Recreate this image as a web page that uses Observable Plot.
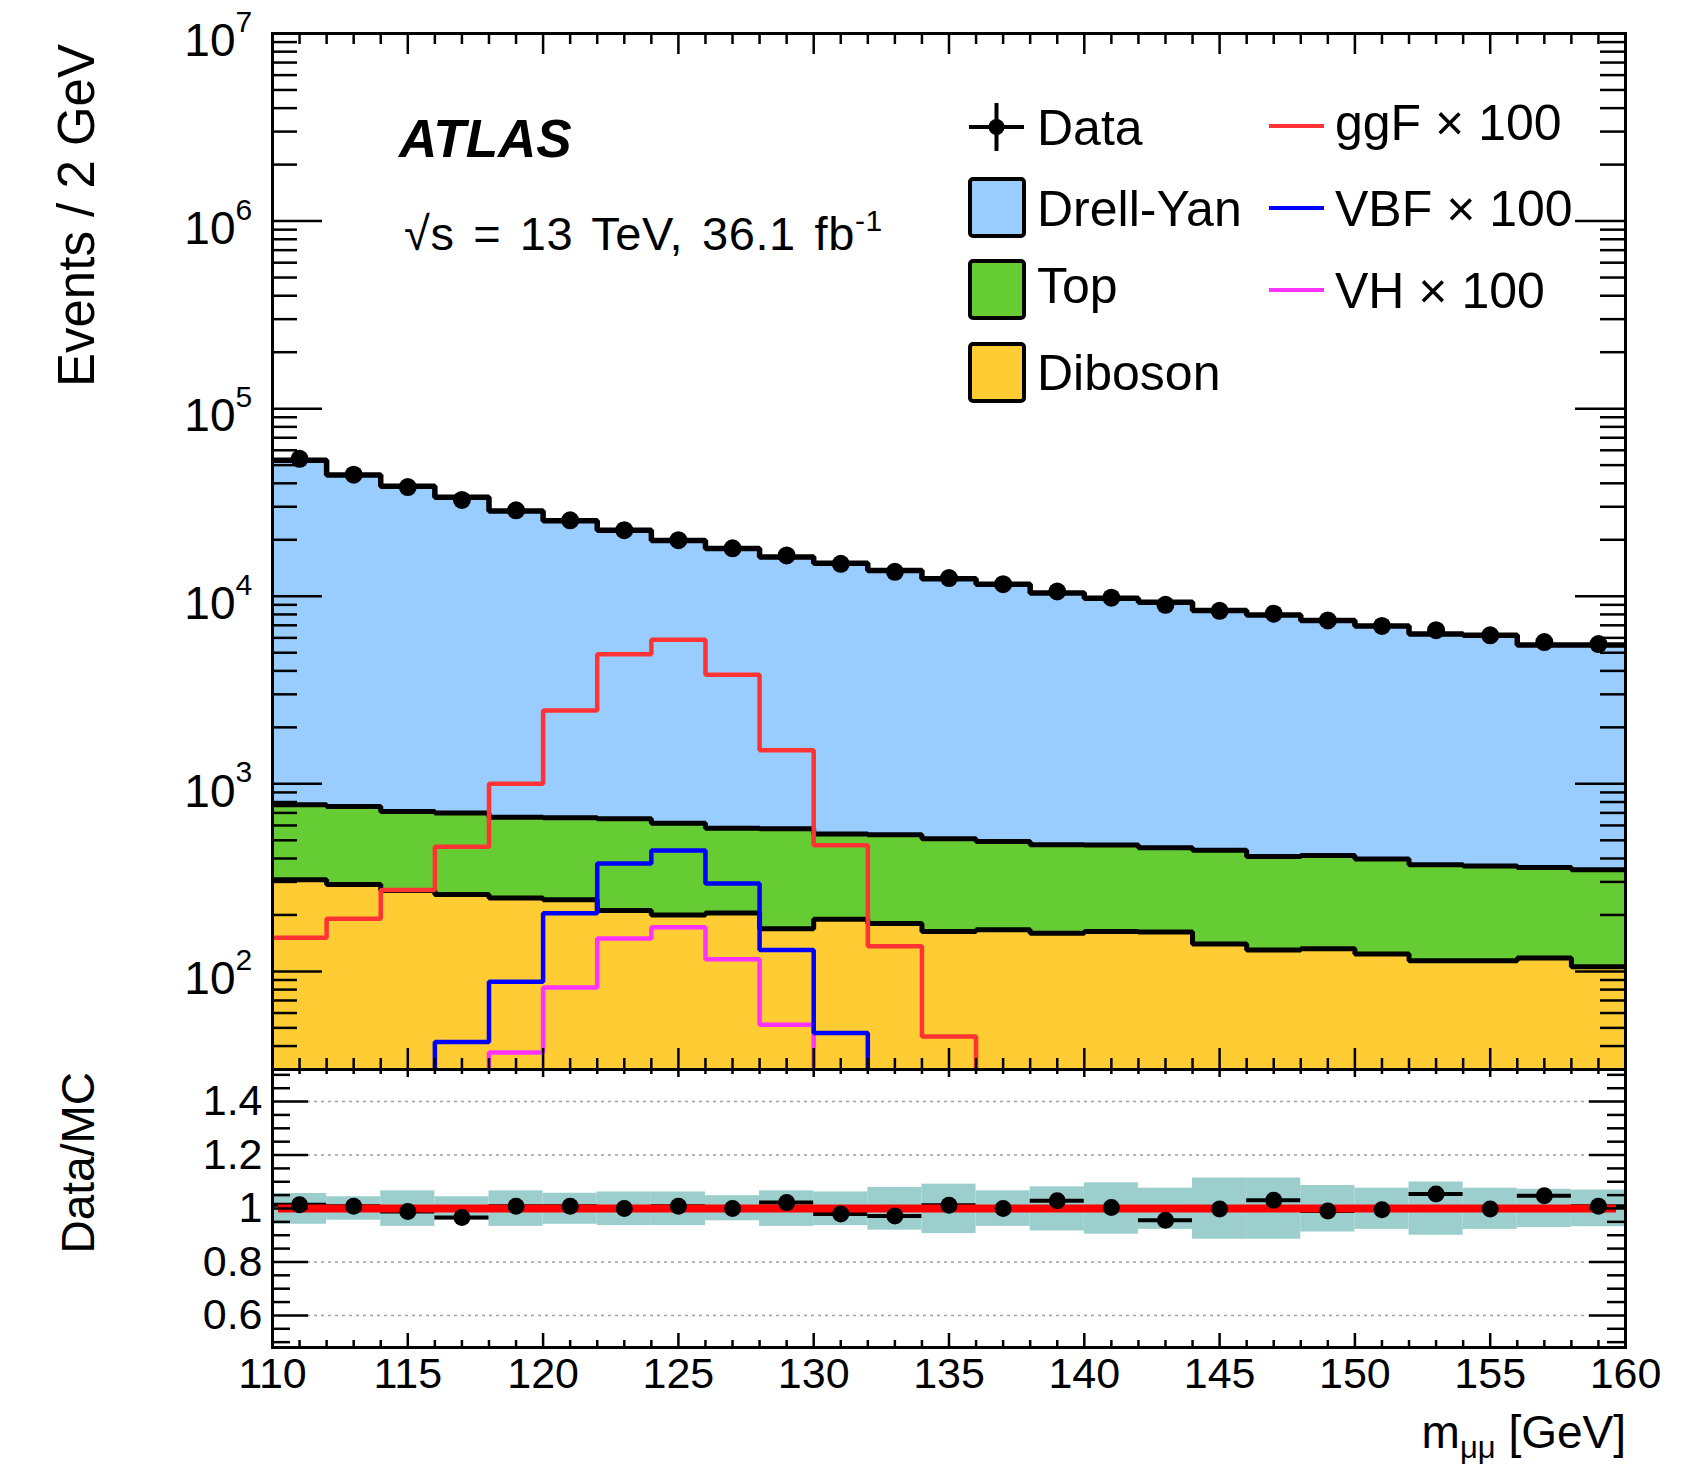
<!DOCTYPE html>
<html><head><meta charset="utf-8">
<script src="https://cdn.jsdelivr.net/npm/d3@7"></script>
<script src="https://cdn.jsdelivr.net/npm/@observablehq/plot@0.6"></script>
<style>
body{margin:0;background:#fff;}
#wrap{position:relative;width:1707px;height:1464px;overflow:hidden;background:#fff;}
#wrap svg{position:absolute;left:0;overflow:visible;}
</style></head><body><div id="wrap"></div>
<script>
// ---------------- data ----------------
const binEdges = [110,112,114,116,118,120,122,124,126,128,130,132,134,136,138,140,142,144,146,148,150,152,154,156,158,160];
const dataCounts = [54000,44500,38200,32600,28700,25400,22500,19900,18000,16500,14900,13500,12500,11600,10600,9830,9000,8360,8070,7430,6950,6590,6190,5700,5560];
const dyVals = [52330,43540,37890,33050,27790,24640,21850,19180,17370,15620,14460,13170,11870,11110,9930,9290,8840,7960,7540,7020,6550,5930,5840,5140,5150];
const topVals = [465,466,443,441,418,418,440,417,375,407,351,355,347,326,313,309,295,302,280,283,274,256,251,240,242];
const dibosonVals = [308,291,270,257,246,241,211,200,205,169,190,180,163,167,160,163,162,140,130,132,124,114,114,118,106];
const ggF100 = [151,191,272,462,1000,2460,4900,5860,3810,1510,470,136,45,null,null,null,null,null,null,null,null,null,null,null,null];
const vbf100 = [null,null,null,42,88,204,376,441,294,130,47,null,null,null,null,null,null,null,null,null,null,null,null,null,null];
const vh100 = [null,null,null,null,37,82,150,172,116,52,null,null,null,null,null,null,null,null,null,null,null,null,null,null,null];
const ratioVals = [1.014,1.008,0.989,0.966,1.008,1.008,1.0,1.008,1.0,1.022,0.979,0.972,1.012,1.0,1.029,1.004,0.956,0.998,1.031,0.991,0.995,1.054,0.998,1.048,1.008];
const ratioErr = [0.006,0.006,0.007,0.007,0.007,0.008,0.008,0.008,0.009,0.009,0.009,0.010,0.010,0.010,0.011,0.011,0.011,0.012,0.012,0.012,0.013,0.013,0.013,0.014,0.014];
const bandLow = [0.941,0.956,0.933,0.956,0.933,0.941,0.936,0.936,0.954,0.933,0.936,0.919,0.906,0.933,0.916,0.904,0.922,0.885,0.885,0.912,0.922,0.900,0.922,0.929,0.932];
const bandHigh = [1.056,1.044,1.066,1.044,1.066,1.057,1.062,1.062,1.048,1.066,1.062,1.079,1.091,1.066,1.081,1.096,1.076,1.114,1.114,1.086,1.076,1.099,1.076,1.072,1.069];
const xTickLabels = [110,115,120,125,130,135,140,145,150,155,160];
const yDecadeExponents = [2,3,4,5,6,7];
const ratioTickLabels = [0.6,0.8,1,1.2,1.4];
const legendStack = [
  {name:"Drell-Yan", color:"#99ccff"},
  {name:"Top", color:"#66cc33"},
  {name:"Diboson", color:"#ffcc33"}
];
const legendSignals = [
  {name:"ggF × 100", color:"#ff3333"},
  {name:"VBF × 100", color:"#0000ff"},
  {name:"VH × 100", color:"#ff33ff"}
];

// ---------------- layout ----------------
const FONT = '"Liberation Sans", Arial, Helvetica, sans-serif';
const W = 1707, L = 272, R = 1625, T = 33, B = 1069;
const RB = 1347;               // bottom of ratio frame
const RSVG_TOP = 1059;          // ratio svg offset
const frameW = R - L, frameH = B - T, rFrameH = RB - B;
const wrap = document.getElementById("wrap");

const nBins = binEdges.length - 1;
const bins = binEdges.slice(0, -1).map((lo, i) => ({lo, hi: binEdges[i + 1], c: (lo + binEdges[i + 1]) / 2, i}));
const edges = binEdges.map((x, k) => ({x, i: Math.min(k, nBins - 1)}));
const cumDib = dibosonVals;
const cumTop = topVals.map((v, i) => v + dibosonVals[i]);
const cumAll = dyVals.map((v, i) => v + cumTop[i]);
const BELOW = 1; // value below the visible log axis (clipped)

const xMinor = d3.range(110, 161).filter(v => v % 5 !== 0);
const yMajor = yDecadeExponents.map(e => 10 ** e);
const yMinor = [];
for (let e = 1; e <= 6; e++) for (let k = 2; k <= 9; k++) { const v = k * 10 ** e; if (v >= 30) yMinor.push(v); }
const rMinor = d3.range(10, 31).filter(k => k % 4 !== 0).map(k => k * 0.05);

const stepLine = (f, opts) => Plot.line(edges, {x: "x", y: d => { const v = f(d.i); return v == null ? BELOW : v; }, curve: "step-after", clip: true, strokeLinejoin: "miter", strokeLinecap: "butt", ...opts});

// ---------------- main panel ----------------
const mainPlot = Plot.plot({
  width: W, height: B, marginLeft: L, marginRight: W - R, marginTop: T, marginBottom: 0,
  x: {domain: [110, 160], axis: null},
  y: {type: "log", domain: [30, 1e7], axis: null},
  style: {fontFamily: FONT, background: "transparent", overflow: "visible"},
  marks: [
    Plot.areaY(edges, {x: "x", y1: BELOW, y2: d => cumAll[d.i], curve: "step-after", fill: "#99ccff", clip: true}),
    Plot.areaY(edges, {x: "x", y1: BELOW, y2: d => cumTop[d.i], curve: "step-after", fill: "#66cc33", clip: true}),
    Plot.areaY(edges, {x: "x", y1: BELOW, y2: d => cumDib[d.i], curve: "step-after", fill: "#ffcc33", clip: true}),
    stepLine(i => cumDib[i], {stroke: "black", strokeWidth: 5}),
    stepLine(i => cumTop[i], {stroke: "black", strokeWidth: 5}),
    stepLine(i => cumAll[i], {stroke: "black", strokeWidth: 5.5}),
    stepLine(i => vh100[i], {stroke: "#ff33ff", strokeWidth: 4.5}),
    stepLine(i => vbf100[i], {stroke: "#0000ff", strokeWidth: 4.5}),
    stepLine(i => ggF100[i], {stroke: "#ff3333", strokeWidth: 4.5}),
    Plot.dot(bins, {x: "c", y: d => dataCounts[d.i], r: 9, fill: "black"}),
    // ticks (inward, ROOT style)
    Plot.tickY(yMajor, {y: d => d, stroke: "black", strokeWidth: 2.5, insetRight: frameW - 50}),
    Plot.tickY(yMajor, {y: d => d, stroke: "black", strokeWidth: 2.5, insetLeft: frameW - 50}),
    Plot.tickY(yMinor, {y: d => d, stroke: "black", strokeWidth: 2.5, insetRight: frameW - 25}),
    Plot.tickY(yMinor, {y: d => d, stroke: "black", strokeWidth: 2.5, insetLeft: frameW - 25}),
    Plot.tickX(xTickLabels, {x: d => d, stroke: "black", strokeWidth: 2.5, insetTop: frameH - 21}),
    Plot.tickX(xTickLabels, {x: d => d, stroke: "black", strokeWidth: 2.5, insetBottom: frameH - 21}),
    Plot.tickX(xMinor, {x: d => d, stroke: "black", strokeWidth: 2.5, insetTop: frameH - 11}),
    Plot.tickX(xMinor, {x: d => d, stroke: "black", strokeWidth: 2.5, insetBottom: frameH - 11}),
    Plot.frame({stroke: "black", strokeWidth: 3}),
    // decade labels 10^n
    Plot.text(yDecadeExponents, {y: e => 10 ** e, text: () => "10", frameAnchor: "left", textAnchor: "end", lineAnchor: "middle", dx: -37, dy: 8, fontSize: 46, fill: "black"}),
    Plot.text(yDecadeExponents, {y: e => 10 ** e, text: e => String(e), frameAnchor: "left", textAnchor: "start", lineAnchor: "middle", dx: -37, dy: -11, fontSize: 30, fill: "black"})
  ]
});
mainPlot.style.top = "0px";
wrap.appendChild(mainPlot);

// ---------------- ratio panel ----------------
const ratioPlot = Plot.plot({
  width: W, height: 1464 - RSVG_TOP, marginLeft: L, marginRight: W - R, marginTop: B - RSVG_TOP, marginBottom: 1464 - RB,
  x: {domain: [110, 160]},
  y: {domain: [0.48, 1.52]},
  style: {fontFamily: FONT, background: "transparent", overflow: "visible", color: "black"},
  marks: [
    Plot.rect(bins, {x1: "lo", x2: "hi", y1: d => bandLow[d.i], y2: d => bandHigh[d.i], fill: "#9ccece"}),
    Plot.ruleY(ratioTickLabels, {stroke: "#a0a0a0", strokeWidth: 1.5, strokeDasharray: "3,4"}),
    Plot.ruleY(bins, {y: d => ratioVals[d.i], x1: "lo", x2: "hi", stroke: "black", strokeWidth: 4}),
    Plot.ruleY([1], {stroke: "#ff0000", strokeWidth: 8, insetLeft: 6, insetRight: 9}),
    Plot.ruleX(bins, {x: "c", y1: d => ratioVals[d.i] - ratioErr[d.i], y2: d => ratioVals[d.i] + ratioErr[d.i], stroke: "black", strokeWidth: 4}),
    Plot.dot(bins, {x: "c", y: d => ratioVals[d.i], r: 8.5, fill: "black"}),
    Plot.tickY(ratioTickLabels, {y: d => d, stroke: "black", strokeWidth: 2.5, insetRight: frameW - 36}),
    Plot.tickY(ratioTickLabels, {y: d => d, stroke: "black", strokeWidth: 2.5, insetLeft: frameW - 36}),
    Plot.tickY(rMinor, {y: d => d, stroke: "black", strokeWidth: 2.5, insetRight: frameW - 18}),
    Plot.tickY(rMinor, {y: d => d, stroke: "black", strokeWidth: 2.5, insetLeft: frameW - 18}),
    Plot.tickX(xTickLabels, {x: d => d, stroke: "black", strokeWidth: 2.5, insetTop: rFrameH - 14}),
    Plot.tickX(xTickLabels, {x: d => d, stroke: "black", strokeWidth: 2.5, insetBottom: rFrameH - 8}),
    Plot.tickX(xMinor, {x: d => d, stroke: "black", strokeWidth: 2.5, insetTop: rFrameH - 7}),
    Plot.tickX(xMinor, {x: d => d, stroke: "black", strokeWidth: 2.5, insetBottom: rFrameH - 5}),
    Plot.frame({stroke: "black", strokeWidth: 3}),
    Plot.axisX(xTickLabels, {tickSize: 0, tickPadding: 10, fontSize: 43, label: null, tickFormat: d => String(d)}),
    Plot.axisY(ratioTickLabels, {tickSize: 0, tickPadding: 10, fontSize: 43, label: null, tickFormat: d => String(d)})
  ]
});
ratioPlot.style.top = RSVG_TOP + "px";
wrap.appendChild(ratioPlot);

// ---------------- texts & legend ----------------
const ov = d3.select(wrap).append("svg")
  .attr("width", W).attr("height", 1464)
  .style("top", "0px").style("font-family", FONT).style("pointer-events", "none");

ov.append("text").attr("x", 399).attr("y", 157).attr("font-size", 53)
  .attr("font-weight", "bold").attr("font-style", "italic").text("ATLAS");
const sq = ov.append("text").attr("x", 404).attr("y", 250).attr("font-size", 47).attr("word-spacing", 5).attr("letter-spacing", 0.6);
sq.append("tspan").text("√s = 13 TeV, 36.1 fb");
sq.append("tspan").attr("font-size", 30).attr("dy", -19).text("-1");

ov.append("text").attr("transform", "translate(94,44) rotate(-90)")
  .attr("text-anchor", "end").attr("font-size", 51).text("Events / 2 GeV");
ov.append("text").attr("transform", "translate(94,1072) rotate(-90)")
  .attr("text-anchor", "end").attr("font-size", 46).text("Data/MC");

const xl = ov.append("text").attr("x", 1626).attr("y", 1448).attr("text-anchor", "end").attr("font-size", 46);
xl.append("tspan").text("m");
xl.append("tspan").attr("font-size", 31).attr("dy", 10).text("μμ");
xl.append("tspan").attr("dy", -10).text(" [GeV]");

// legend: data
ov.append("line").attr("x1", 969).attr("x2", 1024).attr("y1", 127).attr("y2", 127).attr("stroke", "black").attr("stroke-width", 4);
ov.append("line").attr("x1", 996.5).attr("x2", 996.5).attr("y1", 103).attr("y2", 151).attr("stroke", "black").attr("stroke-width", 4);
ov.append("circle").attr("cx", 996.5).attr("cy", 127).attr("r", 8).attr("fill", "black");
ov.append("text").attr("x", 1037).attr("y", 145).attr("font-size", 50).text("Data");
const boxY = [179, 261, 344], boxBase = [226, 303, 390];
legendStack.forEach((s, k) => {
  ov.append("rect").attr("x", 970).attr("y", boxY[k]).attr("width", 54).attr("height", 57).attr("rx", 3)
    .attr("fill", s.color).attr("stroke", "black").attr("stroke-width", 4);
  ov.append("text").attr("x", 1037).attr("y", boxBase[k]).attr("font-size", 50).text(s.name);
});
const sigY = [126, 208, 290], sigBase = [140, 226, 308];
legendSignals.forEach((s, k) => {
  ov.append("line").attr("x1", 1269).attr("x2", 1324).attr("y1", sigY[k]).attr("y2", sigY[k])
    .attr("stroke", s.color).attr("stroke-width", 4);
  ov.append("text").attr("x", 1335).attr("y", sigBase[k]).attr("font-size", 50).text(s.name);
});
</script></body></html>
